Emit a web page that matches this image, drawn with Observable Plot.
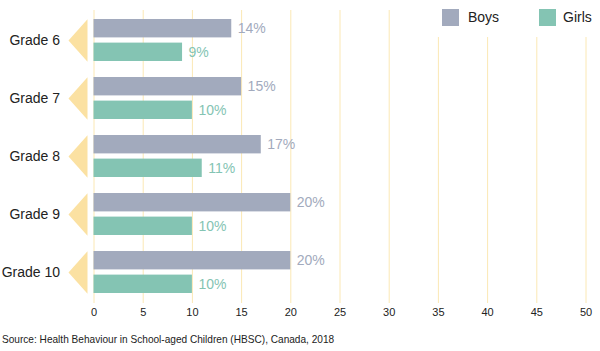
<!DOCTYPE html>
<html>
<head>
<meta charset="utf-8">
<script src="https://cdn.jsdelivr.net/npm/d3@7"></script>
<script src="https://cdn.jsdelivr.net/npm/@observablehq/plot@0.6"></script>
<style>
  html, body { margin: 0; padding: 0; background: #fff; }
  #wrap { position: relative; width: 600px; height: 351px; font-family: "Liberation Sans", Arial, Helvetica, sans-serif; }
  #legend { position: absolute; left: 432px; top: 0; width: 168px; height: 37px; background: #fff; }
  .sw { position: absolute; top: 9px; width: 17px; height: 17px; }
  .lt { position: absolute; top: 9px; line-height: 17px; font-size: 14px; color: #222; }
  #caption { position: absolute; left: 2px; top: 333px; font-size: 10.1px; line-height: 14px; color: #222; white-space: nowrap; }
</style>
</head>
<body>
<div id="wrap">
  <div id="chart"></div>
  <div id="legend">
    <div class="sw" style="left:10px;background:#a2aabd"></div><div class="lt" style="left:36px">Boys</div>
    <div class="sw" style="left:107px;background:#84c4b3"></div><div class="lt" style="left:131px">Girls</div>
  </div>
  <div id="caption">Source: Health Behaviour in School-aged Children (HBSC), Canada, 2018</div>
</div>
<script>
const grades = ["Grade 6", "Grade 7", "Grade 8", "Grade 9", "Grade 10"];
const boys = [14, 15, 17, 20, 20];
const girls = [9, 10, 11, 10, 10];
const xTicks = [0, 5, 10, 15, 20, 25, 30, 35, 40, 45, 50];

const boysColor = "#a2aabd";
const girlsColor = "#84c4b3";

const boysData = grades.map((g, i) => ({grade: g, value: boys[i]}));
const girlsData = grades.map((g, i) => ({grade: g, value: girls[i]}));

const leftTriangle = {
  draw(context) {
    context.moveTo(-6.5, -21.3);
    context.lineTo(-25.5, 0);
    context.lineTo(-6.5, 21.3);
    context.closePath();
  }
};

const chart = Plot.plot({
  width: 600,
  height: 328,
  marginLeft: 93.5,
  marginRight: 14.5,
  marginTop: 10,
  marginBottom: 25,
  style: {fontFamily: '"Liberation Sans", Arial, Helvetica, sans-serif', color: "#222", background: "#fff"},
  x: {domain: [0, 50]},
  y: {domain: grades, paddingInner: 0.272, paddingOuter: 0.135},
  marks: [
    Plot.gridX(xTicks, {stroke: "#fbe8b4", strokeOpacity: 1}),
    Plot.dot(grades, {x: () => 0, y: d => d, r: 1, symbol: leftTriangle, fill: "#fbe1a2", stroke: null}),
    Plot.barX(boysData, {x: "value", y: "grade", fill: boysColor, insetBottom: 23.6}),
    Plot.barX(girlsData, {x: "value", y: "grade", fill: girlsColor, insetTop: 23.6}),
    Plot.text(boysData, {x: "value", y: "grade", text: d => d.value + "%", dx: 6, dy: -11.8, textAnchor: "start", fill: boysColor, fontSize: 14}),
    Plot.text(girlsData, {x: "value", y: "grade", text: d => d.value + "%", dx: 6, dy: 11.8, textAnchor: "start", fill: girlsColor, fontSize: 14}),
    Plot.axisY({tickSize: 0, tickPadding: 34, fontSize: 14, label: null}),
    Plot.axisX({ticks: xTicks, tickSize: 0, tickPadding: 5, fontSize: 11, label: null})
  ]
});
document.getElementById("chart").appendChild(chart);
</script>
</body>
</html>
